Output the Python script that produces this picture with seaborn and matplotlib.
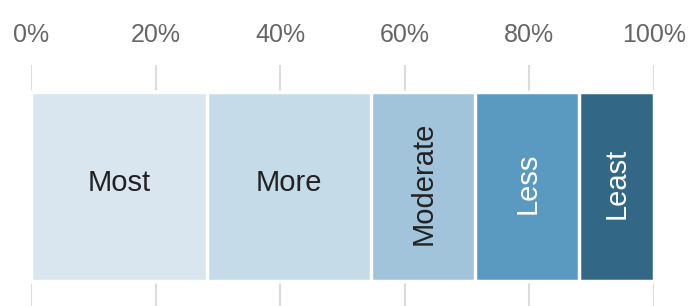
import numpy as np
import pandas as pd
import matplotlib
matplotlib.use("Agg")
import matplotlib.pyplot as plt
import seaborn as sns

# Data
levels = ["Most", "More", "Moderate", "Less", "Least"]
shares = [28.2, 26.4, 16.7, 16.7, 12.0]
colors = ["#d9e6f0", "#c5dbe8", "#a1c4da", "#5b9ac0", "#326886"]
label_colors = ["#222222", "#222222", "#222222", "white", "white"]
rotations = [0, 0, 90, 90, 90]
tick_values = [0, 20, 40, 60, 80, 100]

sns.set_style("white")
plt.rcParams["font.family"] = ["Liberation Sans", "DejaVu Sans"]

df = pd.DataFrame({"level": levels, "share": shares, "color": colors})
df["end"] = df["share"].cumsum()
df["mid"] = df["end"] - df["share"] / 2
df["row"] = ""

fig = plt.figure(figsize=(6.88, 3.06), dpi=100)
ax = fig.add_axes([31 / 688, 0, 623 / 688, 241 / 306])

# stacked bar: draw cumulative bars, longest first
for _, r in df.iloc[::-1].iterrows():
    sns.barplot(x=[r["end"]], y=[r["row"]], orient="h", color=r["color"],
                saturation=1, width=0.8, edgecolor="white", linewidth=2.5, ax=ax)

for i, r in df.iterrows():
    ax.text(r["mid"], -0.015, r["level"], ha="center", va="center",
            rotation=rotations[i], color=label_colors[i], fontsize=21)

ax.set_xlim(0, 100)
ax.set_ylim(0.506, -0.514)
ax.set_xticks(tick_values)
ax.set_xticklabels([f"{t}%" for t in tick_values])
ax.xaxis.tick_top()
ax.tick_params(axis="x", length=0, pad=13, labelsize=18, labelcolor="#666666")
ax.set_yticks([])
ax.set_xlabel("")
ax.set_ylabel("")
ax.grid(axis="x", color="#dcdcdc", linewidth=1.5)
ax.set_axisbelow(True)
sns.despine(ax=ax, left=True, bottom=True, top=True, right=True)

fig.savefig("out.png", dpi=100)
